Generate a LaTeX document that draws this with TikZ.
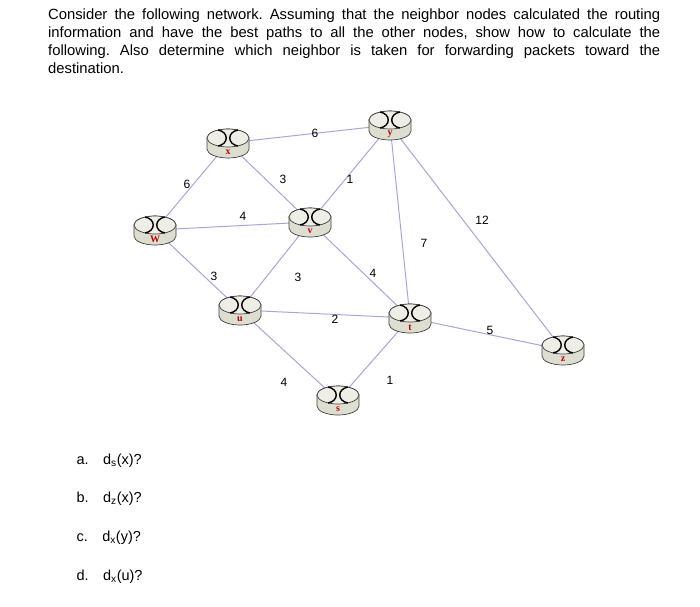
\documentclass[tikz,border=0pt]{standalone}
\usepackage{fontspec}
\setmainfont{Liberation Sans}
\newfontfamily\serifx{Liberation Serif}
\definecolor{rfill}{RGB}{222,222,208}
\definecolor{rtop}{RGB}{238,238,230}
\frenchspacing
\begin{document}
\begin{tikzpicture}[x=1pt,y=-1pt,
  edge/.style={draw=gray!60!blue!50,line width=1pt},
  wl/.style={font=\fontsize{12}{13}\selectfont},
  q/.style={anchor=west,font=\fontsize{14.5}{16}\selectfont}]
\useasboundingbox (0,0) rectangle (700,606);
\fill[white] (0,0) rectangle (700,606);
\node[anchor=north west,align=left,inner sep=0pt,font=\fontsize{14.8}{17.8}\selectfont] (hdr) at (48,9)
{\makebox[612pt][s]{Consider the following network. Assuming that the neighbor nodes calculated the routing}\\
\makebox[612pt][s]{information and have the best paths to all the other nodes, show how to calculate the}\\
\makebox[612pt][s]{following. Also determine which neighbor is taken for forwarding packets toward the}\\
destination.};
\foreach \n/\px/\py in {x/228/143,y/390/125,w/155/230,v/310/222,u/240/310,t/410/318,s/338/400,z/563/350}
  \coordinate (\n) at (\px,\py);
\foreach \a/\b in {x/y,x/w,x/v,v/y,w/v,w/u,v/u,v/t,y/t,y/z,t/z,u/t,u/s,s/t}
  \draw[edge] (\a) -- (\b);
\foreach \n/\L in {x/x,y/y,w/W,v/v,u/u,t/t,s/s,z/z}{
  \begin{scope}[shift={(\n)}]
   \draw[fill=rfill,draw=black!75,line width=0.7pt] (-21,-5) -- (-21,6) arc[start angle=180,end angle=0,x radius=21,y radius=9] -- (21,-5) arc[start angle=0,end angle=-180,x radius=21,y radius=9] -- cycle;
   \draw[fill=rtop,draw=black!75,line width=0.7pt] (0,-5) ellipse[x radius=21,y radius=9];
   \draw[line width=1.4pt] (-10,-13) .. controls (1,-11) and (1,1) .. (-10,3);
   \draw[line width=1.4pt] (10,-13) .. controls (-1,-11) and (-1,1) .. (10,3);
   \node[text=red!75!black,font=\serifx\bfseries\fontsize{10}{10}\selectfont,inner sep=0pt] (lbl\n) at (0,9.5) {\L};
  \end{scope}}
\node[wl] (e1) at (315,133) {6};
\node[wl] (e2) at (187,184) {6};
\node[wl] (e3) at (283,179) {3};
\node[wl] (e4) at (350,179) {1};
\node[wl] (e5) at (243,216) {4};
\node[wl] (e6) at (482,220) {12};
\node[wl] (e7) at (424,243) {7};
\node[wl] (e8) at (214,276) {3};
\node[wl] (e9) at (298,277) {3};
\node[wl] (e10) at (373,273) {4};
\node[wl] (e11) at (335,319) {2};
\node[wl] (e12) at (490,330) {5};
\node[wl] (e13) at (284,382) {4};
\node[wl] (e14) at (390,380) {1};
\node[q] (qa) at (73,461) {a.\quad d\textsubscript{s}(x)?};
\node[q] (qb) at (73,499) {b.\quad d\textsubscript{z}(x)?};
\node[q] (qc) at (73,538) {c.\quad d\textsubscript{x}(y)?};
\node[q] (qd) at (73,577) {d.\quad d\textsubscript{x}(u)?};
\end{tikzpicture}
\end{document}
